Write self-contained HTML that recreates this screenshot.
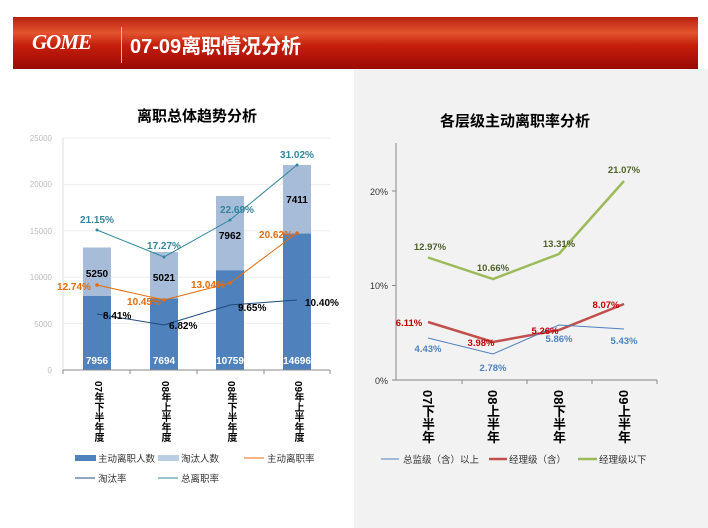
<!DOCTYPE html>
<html><head><meta charset="utf-8"><style>
body{margin:0;width:708px;height:528px;background:#fff;position:relative;overflow:hidden;font-family:"Liberation Sans","Noto Sans CJK SC",sans-serif}
.v{position:absolute;writing-mode:vertical-rl;font-family:"Liberation Sans","Noto Sans CJK SC",sans-serif;color:#000;line-height:1}
</style></head><body>
<div style="position:absolute;left:354px;top:69px;width:354px;height:459px;background:#f2f2f2"></div>
<div style="position:absolute;left:13px;top:17px;width:685px;height:52px;background:linear-gradient(#b8200f 0%,#e2542f 30%,#c51e0c 55%,#9a0a04 100%)"></div>
<div style="position:absolute;left:32px;top:30px;color:#fff;font:italic bold 21px 'Liberation Serif',serif;letter-spacing:-1px">GOME</div>
<div style="position:absolute;left:121px;top:27px;width:1px;height:36px;background:#f3b3a0"></div>
<div style="position:absolute;left:130px;top:30px;color:#fff;font-weight:bold;font-size:20px;font-family:'Liberation Sans','Noto Sans CJK SC',sans-serif">07-09离职情况分析</div>

<svg width="708" height="528" style="position:absolute;left:0;top:0" font-family="Liberation Sans, Noto Sans CJK SC, sans-serif">
<text x="197" y="121" font-size="15" font-weight="bold" text-anchor="middle">离职总体趋势分析</text>
<text x="515" y="126" font-size="15" font-weight="bold" text-anchor="middle">各层级主动离职率分析</text>
<g stroke="#eeeeee"><line x1="63" y1="138" x2="330" y2="138"/><line x1="63" y1="184.4" x2="330" y2="184.4"/><line x1="63" y1="230.8" x2="330" y2="230.8"/><line x1="63" y1="277.2" x2="330" y2="277.2"/><line x1="63" y1="323.6" x2="330" y2="323.6"/></g>
<g font-size="8" fill="#bbb" text-anchor="end"><text x="52" y="141">25000</text><text x="52" y="187">20000</text><text x="52" y="234">15000</text><text x="52" y="280">10000</text><text x="52" y="327">5000</text><text x="52" y="373">0</text></g>
<line x1="63" y1="138" x2="63" y2="370" stroke="#ddd"/>
<g fill="#a7bcd8"><rect x="83" y="247.5" width="28" height="49"/><rect x="150" y="252" width="28" height="47"/><rect x="216" y="196" width="28" height="74"/><rect x="283" y="165" width="28" height="69"/></g>
<g fill="#4f81bd"><rect x="83" y="296" width="28" height="74"/><rect x="150" y="298.6" width="28" height="71.4"/><rect x="216" y="270.2" width="28" height="99.8"/><rect x="283" y="233.6" width="28" height="136.4"/></g>
<line x1="63" y1="370" x2="330" y2="370" stroke="#888"/>
<g stroke="#888"><line x1="63" y1="370" x2="63" y2="374"/><line x1="130" y1="370" x2="130" y2="374"/><line x1="197" y1="370" x2="197" y2="374"/><line x1="264" y1="370" x2="264" y2="374"/><line x1="330" y1="370" x2="330" y2="374"/></g>
<g font-size="10" font-weight="bold" fill="#fff" text-anchor="middle"><text x="97" y="364">7956</text><text x="164" y="364">7694</text><text x="230" y="364">10759</text><text x="297" y="364">14696</text></g>
<g font-size="10" font-weight="bold" fill="#000" text-anchor="middle"><text x="97" y="277">5250</text><text x="164" y="281">5021</text><text x="230" y="239">7962</text><text x="297" y="203">7411</text></g>
<polyline points="97,230 164,257 230,220 297,165" fill="none" stroke="#31859c" stroke-width="1"/>
<polyline points="97,285 164,300 230,283 297,233" fill="none" stroke="#e46c0a" stroke-width="1"/>
<polyline points="97,314 164,325 230,305 297,300" fill="none" stroke="#1f497d" stroke-width="1"/>
<g fill="#31859c"><circle cx="97" cy="230" r="1.5"/><circle cx="164" cy="257" r="1.5"/><circle cx="230" cy="220" r="1.5"/><circle cx="297" cy="165" r="1.5"/></g>
<g fill="#e46c0a"><circle cx="97" cy="285" r="1.8"/><circle cx="164" cy="300" r="1.8"/><circle cx="230" cy="283" r="1.8"/><circle cx="297" cy="233" r="1.8"/></g>
<g font-size="10" font-weight="bold" fill="#31859c" text-anchor="middle"><text x="97" y="223">21.15%</text><text x="164" y="249">17.27%</text><text x="237" y="213">22.69%</text><text x="297" y="158">31.02%</text></g>
<g font-size="10" font-weight="bold" fill="#e46c0a" text-anchor="middle"><text x="74" y="290">12.74%</text><text x="144" y="305">10.45%</text><text x="208" y="288">13.04%</text><text x="276" y="238">20.62%</text></g>
<g font-size="10" font-weight="bold" fill="#000" text-anchor="start"><text x="103" y="319">8.41%</text><text x="169" y="329">6.82%</text><text x="238" y="311">9.65%</text><text x="305" y="306">10.40%</text></g>
<rect x="75" y="455" width="21" height="6" fill="#4f81bd"/><text x="98" y="462" font-size="9.5" fill="#333">主动离职人数</text>
<rect x="158" y="455" width="21" height="6" fill="#b9cde5"/><text x="181" y="462" font-size="9.5" fill="#333">淘汰人数</text>
<line x1="244" y1="458" x2="264" y2="458" stroke="#e46c0a"/><text x="267" y="462" font-size="9.5" fill="#333">主动离职率</text>
<line x1="75" y1="478" x2="95" y2="478" stroke="#1f497d"/><text x="98" y="482" font-size="9.5" fill="#333">淘汰率</text>
<line x1="158" y1="478" x2="178" y2="478" stroke="#31859c"/><text x="181" y="482" font-size="9.5" fill="#333">总离职率</text>

<line x1="396" y1="143" x2="396" y2="380" stroke="#888"/>
<line x1="396" y1="380" x2="657" y2="380" stroke="#888"/>
<g stroke="#888"><line x1="462" y1="380" x2="462" y2="384"/><line x1="527" y1="380" x2="527" y2="384"/><line x1="592" y1="380" x2="592" y2="384"/><line x1="657" y1="380" x2="657" y2="384"/><line x1="392" y1="380" x2="396" y2="380"/><line x1="392" y1="285.5" x2="396" y2="285.5"/><line x1="392" y1="191" x2="396" y2="191"/></g>
<g font-size="9" fill="#333" text-anchor="end"><text x="388" y="384">0%</text><text x="388" y="289">10%</text><text x="388" y="195">20%</text></g>
<polyline points="428,257.5 493,279 559,254 624,181" fill="none" stroke="#9bbb59" stroke-width="2.5"/>
<polyline points="428,322 493,342 559,330 624,304" fill="none" stroke="#c0504d" stroke-width="2.5"/>
<polyline points="428,338 493,354 559,325 624,329" fill="none" stroke="#4f81bd" stroke-width="1"/>
<g font-size="9.5" font-weight="bold" fill="#4f6228" text-anchor="middle"><text x="430" y="250">12.97%</text><text x="493" y="271">10.66%</text><text x="559" y="247">13.31%</text><text x="624" y="173">21.07%</text></g>
<g font-size="9.5" font-weight="bold" fill="#c00000" text-anchor="middle"><text x="409" y="326">6.11%</text><text x="481" y="346">3.98%</text><text x="545" y="334">5.26%</text><text x="606" y="308">8.07%</text></g>
<g font-size="9.5" font-weight="bold" fill="#4f81bd" text-anchor="middle"><text x="428" y="352">4.43%</text><text x="493" y="371">2.78%</text><text x="559" y="342">5.86%</text><text x="624" y="344">5.43%</text></g>
<line x1="381" y1="459" x2="399" y2="459" stroke="#4f81bd"/><text x="403" y="463" font-size="9.5" fill="#333">总监级（含）以上</text>
<line x1="489" y1="459" x2="507" y2="459" stroke="#c0504d" stroke-width="2.5"/><text x="509" y="463" font-size="9.5" fill="#333">经理级（含）</text>
<line x1="578" y1="459" x2="597" y2="459" stroke="#9bbb59" stroke-width="2.5"/><text x="599" y="463" font-size="9.5" fill="#333">经理级以下</text>
</svg>
<div class="v" style="left:92px;top:381px;font-size:10px;font-weight:bold">07年下半年度</div>
<div class="v" style="left:159px;top:381px;font-size:10px;font-weight:bold">08年上半年度</div>
<div class="v" style="left:225px;top:381px;font-size:10px;font-weight:bold">08年下半年度</div>
<div class="v" style="left:292px;top:381px;font-size:10px;font-weight:bold">09年上半年度</div>
<div class="v" style="left:421px;top:390px;font-size:13px;font-weight:bold">07下半年</div>
<div class="v" style="left:486px;top:390px;font-size:13px;font-weight:bold">08上半年</div>
<div class="v" style="left:552px;top:390px;font-size:13px;font-weight:bold">08下半年</div>
<div class="v" style="left:617px;top:390px;font-size:13px;font-weight:bold">09上半年</div>
</body></html>
